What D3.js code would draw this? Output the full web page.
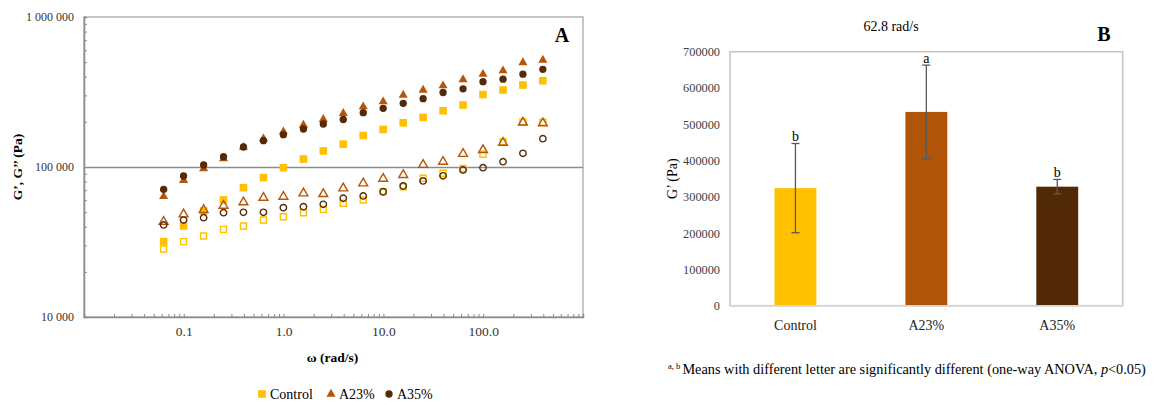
<!DOCTYPE html>
<html>
<head>
<meta charset="utf-8">
<script src="https://cdn.jsdelivr.net/npm/d3@7"></script>
<style>
  body { margin: 0; background: #fff; }
  text { font-family: "Liberation Serif", "DejaVu Serif", serif; }
</style>
</head>
<body>
<svg class="chart"></svg>
<script>
// ---- data ----
var omega = [0.0628, 0.0995, 0.158, 0.250, 0.396, 0.628, 0.995, 1.58, 2.50, 3.96,
             6.28, 9.95, 15.8, 25.0, 39.6, 62.8, 99.5, 158, 250, 396];

var controlG1 = [31800, 40400, 50900, 60300, 72800, 84900, 98900, 113000, 128000, 142000,
                 162000, 178000, 197000, 214000, 237000, 259000, 304000, 326000, 352000, 376000];
var controlG2 = [28400, 31800, 34700, 38400, 40400, 44300, 46600, 49600, 52200, 57300,
                 60300, 68400, 73900, 84200, 90800, 97700, 121500, 147500, 199500, 198600];
var a23G1 = [63600, 81500, 97700, 113600, 135500, 154400, 171900, 190500, 208000, 228000,
             252400, 272500, 302000, 326100, 348300, 382600, 415700, 438500, 497400, 516800];
var a23G2 = [43200, 48400, 51700, 55200, 58200, 62400, 63400, 66800, 66100, 72100,
             77900, 83600, 88500, 103400, 108500, 122500, 129800, 145200, 198000, 195900];
var a35G1 = [71000, 87100, 103100, 117200, 135900, 149700, 164200, 179200, 193500, 207400,
             230100, 246200, 265900, 285400, 313800, 332100, 370400, 384900, 415700, 448000];
var a35G2 = [41100, 44300, 45900, 49600, 49900, 49900, 53600, 54400, 56400, 61900,
             64100, 68400, 74700, 80700, 87400, 95500, 98900, 108500, 123400, 154400];

var xTicksA = [0.1, 1, 10, 100];
var yTicksA = [10000, 100000, 1000000];

var groups = ['Control', 'A23%', 'A35%'];
var barMeans = [324000, 534000, 328000];
var barErrors = [123000, 129000, 20000];
var barLetters = ['b', 'a', 'b'];
var yTicksB = [0, 100000, 200000, 300000, 400000, 500000, 600000, 700000];

var colors = {'Control': '#FFC000', 'A23%': '#B5560A', 'A35%': '#552A08'};
var barColors = {'Control': '#FFC000', 'A23%': '#B05408', 'A35%': '#512906'};

var chart = d3.select('.chart')
	.attr('width', 1156)
	.attr('height', 405);

// ================= panel A =================
var mA = {top: 17, left: 84},
	wA = 499,
	hA = 300;

var gA = chart.append('g')
	.attr('transform', 'translate(' + mA.left + ',' + mA.top + ')');

var x = d3.scaleLog().domain([0.01, 1000]).range([0, wA]),
	y = d3.scaleLog().domain([10000, 1000000]).range([hA, 0]);

// minor ticks
var minorX = [], minorY = [];
[0.01, 0.1, 1, 10, 100].forEach(function(d) {
	for (var i = 1; i < 10; i++) minorX.push(d * i);
});
[10000, 100000].forEach(function(d) {
	for (var i = 2; i < 10; i++) minorY.push(d * i);
});

// frame (top / right)
gA.append('rect')
	.attr('width', wA).attr('height', hA)
	.attr('fill', 'none')
	.attr('stroke', '#b4b4b4')
	.attr('stroke-width', 1.5);

// gridline at 100 000
gA.append('g')
	.attr('class', 'grid')
	.call(d3.axisLeft(y).tickValues([100000]).tickSize(-wA).tickFormat(''))
	.call(function(g) {
		g.select('.domain').remove();
		g.selectAll('line').attr('stroke', '#8c8c8c').attr('stroke-width', 1.3);
	});

// x axis
gA.append('g')
	.attr('transform', 'translate(0,' + hA + ')')
	.call(d3.axisBottom(x).tickValues(minorX).tickSize(-3).tickFormat(''))
	.call(function(g) {
		g.select('.domain').attr('stroke', '#8a8a8a').attr('stroke-width', 1.5);
		g.selectAll('.tick line').attr('stroke', '#8a8a8a');
	});
gA.append('g')
	.attr('transform', 'translate(0,' + hA + ')')
	.call(d3.axisBottom(x).tickValues(xTicksA).tickSize(0).tickPadding(9)
		.tickFormat(d3.format('.1f')))
	.call(function(g) {
		g.select('.domain').remove();
		g.selectAll('text').attr('font-size', '13.5px').attr('fill', '#333')
			.style('font-family', '"Liberation Serif", serif');
	});

// y axis
gA.append('g')
	.call(d3.axisLeft(y).tickValues(minorY).tickSize(-3).tickFormat(''))
	.call(function(g) {
		g.select('.domain').attr('stroke', '#8a8a8a').attr('stroke-width', 1.5);
		g.selectAll('.tick line').attr('stroke', '#8a8a8a');
	});
gA.append('g')
	.call(d3.axisLeft(y).tickValues(yTicksA).tickSize(0).tickPadding(10)
		.tickFormat(function(d) { return d3.format(',')(d).replace(/,/g, ' '); }))
	.call(function(g) {
		g.select('.domain').remove();
		g.selectAll('text').attr('font-size', '12px').attr('fill', '#333')
			.style('font-family', '"Liberation Serif", serif');
	});

// series
var seriesA = [
	{name: 'Control', vals: controlG1, sym: d3.symbolSquare, size: 58, open: false},
	{name: 'A23%', vals: a23G1, sym: d3.symbolTriangle, size: 36, open: false},
	{name: 'A35%', vals: a35G1, sym: d3.symbolCircle, size: 42, open: false},
	{name: 'Control', vals: controlG2, sym: d3.symbolSquare, size: 36, open: true},
	{name: 'A23%', vals: a23G2, sym: d3.symbolTriangle, size: 34, open: true},
	{name: 'A35%', vals: a35G2, sym: d3.symbolCircle, size: 32, open: true}
];

seriesA.forEach(function(s) {
	gA.append('g')
		.selectAll('path')
		.data(s.vals)
	  .enter().append('path')
		.attr('transform', function(d, i) { return 'translate(' + x(omega[i]) + ',' + y(d) + ')'; })
		.attr('d', d3.symbol().type(s.sym).size(s.size))
		.attr('fill', s.open ? 'none' : colors[s.name])
		.attr('stroke', s.open ? colors[s.name] : 'none')
		.attr('stroke-width', 1.4);
});

// axis titles
chart.append('text')
	.attr('transform', 'translate(22,' + (mA.top + hA / 2) + ') rotate(-90)')
	.attr('text-anchor', 'middle')
	.attr('font-size', '13.5px')
	.attr('font-weight', 'bold')
	.text('G\u2019, G\u2019\u2019 (Pa)');

chart.append('text')
	.attr('x', mA.left + x(1) + 49)
	.attr('y', 362)
	.attr('text-anchor', 'middle')
	.attr('font-size', '13.5px')
	.attr('font-weight', 'bold')
	.text('\u03c9 (rad/s)');

chart.append('text')
	.attr('x', 562)
	.attr('y', 42)
	.attr('text-anchor', 'middle')
	.attr('font-size', '20px')
	.attr('font-weight', 'bold')
	.text('A');

// legend
var legend = [
	{name: 'Control', sym: d3.symbolSquare, size: 58, x: 262},
	{name: 'A23%', sym: d3.symbolTriangle, size: 36, x: 331},
	{name: 'A35%', sym: d3.symbolCircle, size: 42, x: 389}
];
var leg = chart.append('g').attr('transform', 'translate(0,395)');
leg.selectAll('path')
	.data(legend)
  .enter().append('path')
	.attr('transform', function(d) { return 'translate(' + d.x + ',-1)'; })
	.attr('d', function(d) { return d3.symbol().type(d.sym).size(d.size)(); })
	.attr('fill', function(d) { return colors[d.name]; });
leg.selectAll('text')
	.data(legend)
  .enter().append('text')
	.attr('x', function(d) { return d.x + 8; })
	.attr('y', 4)
	.attr('font-size', '14px')
	.text(function(d) { return d.name; });

// ================= panel B =================
var mB = {top: 51.7, left: 730},
	wB = 392.7,
	hB = 254;

var gB = chart.append('g')
	.attr('transform', 'translate(' + mB.left + ',' + mB.top + ')');

var xB = d3.scaleBand().domain(groups).range([0, wB]).paddingInner(0.68).paddingOuter(0.34),
	yB = d3.scaleLinear().domain([0, 700000]).range([hB, 0]);

gB.append('rect')
	.attr('width', wB).attr('height', hB)
	.attr('fill', 'none')
	.attr('stroke', '#c4c4c4')
	.attr('stroke-width', 1.5);

gB.append('g')
	.call(d3.axisLeft(yB).tickValues(yTicksB).tickSize(0).tickPadding(10).tickFormat(d3.format('d')))
	.call(function(g) {
		g.select('.domain').remove();
		g.selectAll('text').attr('font-size', '12.3px').attr('fill', '#404040')
			.style('font-family', '"Liberation Serif", serif');
	});

var bar = gB.selectAll('.bar')
	.data(groups)
  .enter().append('g')
	.attr('class', 'bar');

bar.append('rect')
	.attr('x', function(d) { return xB(d); })
	.attr('y', function(d, i) { return yB(barMeans[i]); })
	.attr('width', xB.bandwidth())
	.attr('height', function(d, i) { return hB - yB(barMeans[i]); })
	.attr('fill', function(d) { return barColors[d]; });

// bottom axis line over bars
gB.append('line')
	.attr('x1', 0).attr('x2', wB)
	.attr('y1', hB).attr('y2', hB)
	.attr('stroke', '#d4d4d4')
	.attr('stroke-width', 1.5);

// error bars
var cx = function(d) { return xB(d) + xB.bandwidth() / 2; };
bar.append('line')
	.attr('x1', cx).attr('x2', cx)
	.attr('y1', function(d, i) { return yB(barMeans[i] + barErrors[i]); })
	.attr('y2', function(d, i) { return yB(barMeans[i] - barErrors[i]); })
	.attr('stroke', '#595959').attr('stroke-width', 1.3);
bar.selectAll('.cap')
	.data(function(d, i) { return [[d, barMeans[i] + barErrors[i]], [d, barMeans[i] - barErrors[i]]]; })
  .enter().append('line')
	.attr('class', 'cap')
	.attr('x1', function(d) { return cx(d[0]) - 4; })
	.attr('x2', function(d) { return cx(d[0]) + 4; })
	.attr('y1', function(d) { return yB(d[1]); })
	.attr('y2', function(d) { return yB(d[1]); })
	.attr('stroke', '#595959').attr('stroke-width', 1.3);

bar.append('text')
	.attr('x', cx)
	.attr('y', function(d, i) { return yB(barMeans[i] + barErrors[i]) - 2; })
	.attr('text-anchor', 'middle')
	.attr('font-size', '14px')
	.text(function(d, i) { return barLetters[i]; });

// x labels
gB.append('g')
	.attr('transform', 'translate(0,' + hB + ')')
	.call(d3.axisBottom(xB).tickSize(0).tickPadding(14))
	.call(function(g) {
		g.select('.domain').remove();
		g.selectAll('text').attr('font-size', '14px').attr('fill', '#222')
			.style('font-family', '"Liberation Serif", serif');
	});

// titles
chart.append('text')
	.attr('x', 891)
	.attr('y', 31)
	.attr('text-anchor', 'middle')
	.attr('font-size', '14px')
	.text('62.8 rad/s');

chart.append('text')
	.attr('transform', 'translate(677,' + (mB.top + hB / 2) + ') rotate(-90)')
	.attr('text-anchor', 'middle')
	.attr('font-size', '14px')
	.text('G\u2019 (Pa)');

chart.append('text')
	.attr('x', 1104)
	.attr('y', 41)
	.attr('text-anchor', 'middle')
	.attr('font-size', '20px')
	.attr('font-weight', 'bold')
	.text('B');

// footnote
var note = chart.append('text')
	.attr('x', 668)
	.attr('y', 374)
	.attr('font-size', '14.3px');
note.append('tspan').attr('font-size', '8.5px').attr('dy', '-5').text('a, b ');
note.append('tspan').attr('dy', '5').text('Means with different letter are significantly different (one-way ANOVA, ');
note.append('tspan').attr('font-style', 'italic').text('p');
note.append('tspan').text('<0.05)');
</script>
</body>
</html>
